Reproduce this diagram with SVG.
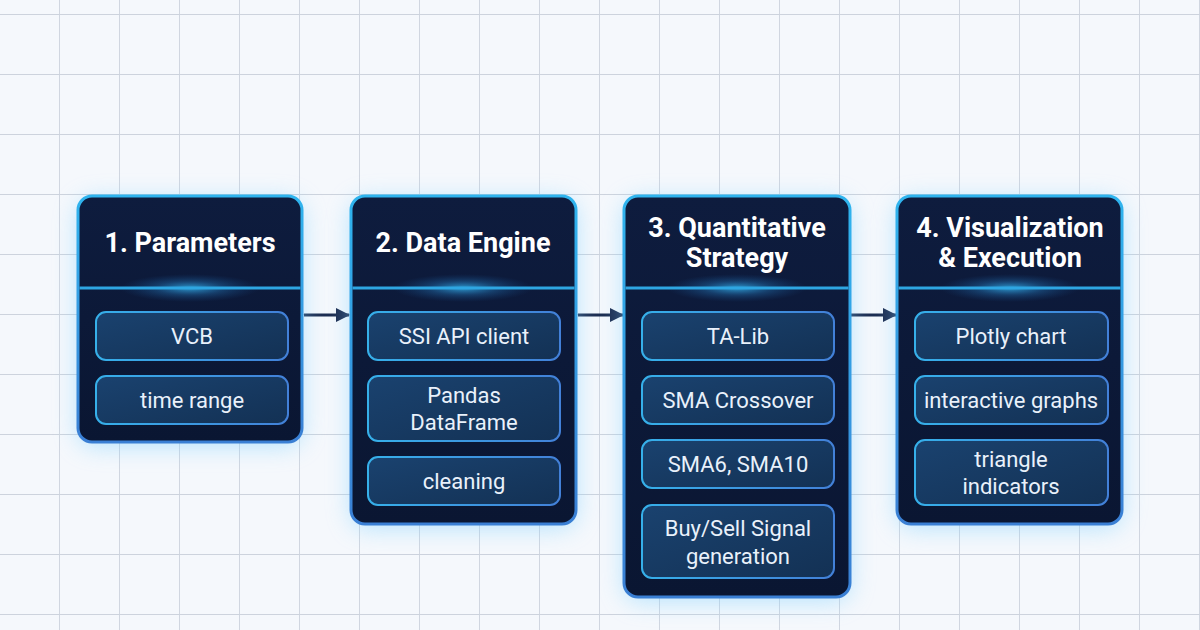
<svg xmlns="http://www.w3.org/2000/svg" width="1200" height="630" viewBox="0 0 1200 630">
  <defs>
    <pattern id="grid" x="0" y="15" width="60" height="60" patternUnits="userSpaceOnUse">
      <path d="M60 0 V60 M0 60 H60" fill="none" stroke="#cdd3dd" stroke-width="1.8"/>
    </pattern>
    <linearGradient id="cardFill" x1="0" y1="0" x2="0" y2="1">
      <stop offset="0" stop-color="#0e1c3e"/>
      <stop offset="1" stop-color="#0a1632"/>
    </linearGradient>
    <linearGradient id="cardStroke" x1="0" y1="0" x2="0" y2="1">
      <stop offset="0" stop-color="#2fb4ee"/>
      <stop offset="1" stop-color="#3a7fd4"/>
    </linearGradient>
    <linearGradient id="itemFill" x1="0" y1="0" x2="1" y2="1">
      <stop offset="0" stop-color="#1a426f"/>
      <stop offset="1" stop-color="#133154"/>
    </linearGradient>
    <linearGradient id="itemStroke" x1="0" y1="0" x2="1" y2="0">
      <stop offset="0" stop-color="#36b0ea"/>
      <stop offset="1" stop-color="#4280d8"/>
    </linearGradient>
    <radialGradient id="divGlow" cx="0.5" cy="0.5" r="0.5">
      <stop offset="0" stop-color="#38c4ff" stop-opacity="0.75"/>
      <stop offset="0.5" stop-color="#2a8fd8" stop-opacity="0.3"/>
      <stop offset="1" stop-color="#1a5fa8" stop-opacity="0"/>
    </radialGradient>
    <filter id="glow" x="-30%" y="-30%" width="160%" height="160%">
      <feGaussianBlur stdDeviation="12"/>
    </filter>
    <marker id="arrow" viewBox="0 0 14 14" refX="13" refY="7" markerWidth="14" markerHeight="14" markerUnits="userSpaceOnUse" orient="auto">
      <path d="M0 0 L14 7 L0 14 Z" fill="#1b2b4f"/>
    </marker>
  </defs>
  <style>
    .halo { fill: #7fd0ff; opacity: 0.55; filter: url(#glow); }
    .card { fill: url(#cardFill); stroke: url(#cardStroke); stroke-width: 3; }
    .divider { stroke: #2ea6e2; stroke-width: 3; }
    .item { fill: url(#itemFill); stroke: url(#itemStroke); stroke-width: 2; }
    .title { font-family: Roboto, "Liberation Sans", sans-serif; font-weight: 700; font-size: 27px; fill: #ffffff; text-anchor: middle; }
    .label { font-family: Roboto, "Liberation Sans", sans-serif; font-size: 22px; fill: #e9f1fb; text-anchor: middle; }
    .conn { stroke: #1b2b4f; stroke-width: 3; fill: none; }
  </style>

  <rect width="1200" height="630" fill="#f5f8fc"/>
  <rect width="1200" height="630" fill="url(#grid)"/>

  <g id="connectors">
    <line class="conn" x1="304" y1="315" x2="349" y2="315" marker-end="url(#arrow)"/>
    <line class="conn" x1="578" y1="315" x2="623" y2="315" marker-end="url(#arrow)"/>
    <line class="conn" x1="851" y1="315" x2="896" y2="315" marker-end="url(#arrow)"/>
  </g>

  <g id="node-parameters">
    <rect class="halo" x="78" y="200" width="224" height="246" rx="16"/>
    <rect class="card" x="78" y="196" width="224" height="246" rx="14"/>
    <ellipse cx="190" cy="288" rx="70" ry="14" fill="url(#divGlow)"/>
    <line class="divider" x1="79.5" y1="288" x2="300.5" y2="288"/>
    <text class="title" x="190" y="252">1. Parameters</text>
    <rect class="item" x="96" y="312" width="192" height="48" rx="10"/>
    <text class="label" x="192" y="344">VCB</text>
    <rect class="item" x="96" y="376" width="192" height="48" rx="10"/>
    <text class="label" x="192" y="408">time range</text>
  </g>

  <g id="node-data-engine">
    <rect class="halo" x="351" y="200" width="225" height="328" rx="16"/>
    <rect class="card" x="351" y="196" width="225" height="328" rx="14"/>
    <ellipse cx="463" cy="288" rx="70" ry="14" fill="url(#divGlow)"/>
    <line class="divider" x1="352.5" y1="288" x2="574.5" y2="288"/>
    <text class="title" x="463" y="252">2. Data Engine</text>
    <rect class="item" x="368" y="312" width="192" height="48" rx="10"/>
    <text class="label" x="464" y="344">SSI API client</text>
    <rect class="item" x="368" y="376" width="192" height="65" rx="10"/>
    <text class="label" x="464" y="403">Pandas</text>
    <text class="label" x="464" y="430">DataFrame</text>
    <rect class="item" x="368" y="457" width="192" height="48" rx="10"/>
    <text class="label" x="464" y="489">cleaning</text>
  </g>

  <g id="node-quant-strategy">
    <rect class="halo" x="624" y="200" width="226" height="401" rx="16"/>
    <rect class="card" x="624" y="196" width="226" height="401" rx="14"/>
    <ellipse cx="737" cy="288" rx="70" ry="14" fill="url(#divGlow)"/>
    <line class="divider" x1="625.5" y1="288" x2="848.5" y2="288"/>
    <text class="title" x="737" y="237">3. Quantitative</text>
    <text class="title" x="737" y="267">Strategy</text>
    <rect class="item" x="642" y="312" width="192" height="48" rx="10"/>
    <text class="label" x="738" y="344">TA-Lib</text>
    <rect class="item" x="642" y="376" width="192" height="48" rx="10"/>
    <text class="label" x="738" y="408">SMA Crossover</text>
    <rect class="item" x="642" y="440" width="192" height="48" rx="10"/>
    <text class="label" x="738" y="472">SMA6, SMA10</text>
    <rect class="item" x="642" y="505" width="192" height="73" rx="10"/>
    <text class="label" x="738" y="536">Buy/Sell Signal</text>
    <text class="label" x="738" y="564">generation</text>
  </g>

  <g id="node-visualization">
    <rect class="halo" x="897" y="200" width="225" height="328" rx="16"/>
    <rect class="card" x="897" y="196" width="225" height="328" rx="14"/>
    <ellipse cx="1010" cy="288" rx="70" ry="14" fill="url(#divGlow)"/>
    <line class="divider" x1="898.5" y1="288" x2="1120.5" y2="288"/>
    <text class="title" x="1010" y="237">4. Visualization</text>
    <text class="title" x="1010" y="267">&amp; Execution</text>
    <rect class="item" x="915" y="312" width="193" height="48" rx="10"/>
    <text class="label" x="1011" y="344">Plotly chart</text>
    <rect class="item" x="915" y="376" width="193" height="48" rx="10"/>
    <text class="label" x="1011" y="408">interactive graphs</text>
    <rect class="item" x="915" y="440" width="193" height="65" rx="10"/>
    <text class="label" x="1011" y="467">triangle</text>
    <text class="label" x="1011" y="494">indicators</text>
  </g>
</svg>
